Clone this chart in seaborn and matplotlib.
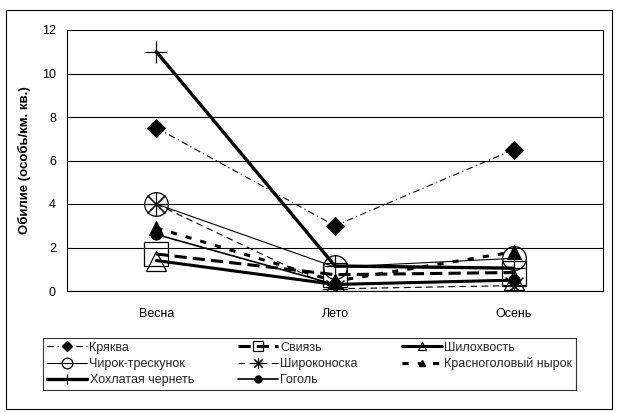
import numpy as np
import pandas as pd
import matplotlib
matplotlib.use("Agg")
import matplotlib.pyplot as plt
from matplotlib.patches import Rectangle
from matplotlib.lines import Line2D
import seaborn as sns

seasons = ['Весна', 'Лето', 'Осень']
names = ['Кряква', 'Свиязь', 'Шилохвость', 'Чирок-трескунок', 'Широконоска',
         'Красноголовый нырок', 'Хохлатая чернеть', 'Гоголь']
kryakva = [7.5, 3.0, 6.5]
sviyaz = [1.7, 0.75, 0.85]
shilohvost = [1.4, 0.3, 0.5]
chirok = [4.0, 1.1, 1.5]
shirokonoska = [4.0, 0.1, 0.25]
krasnogolov = [2.9, 0.45, 1.8]
hohlataya = [11.0, 1.15, 1.05]
gogol = [2.6, 0.3, 0.5]
values = [kryakva, sviyaz, shilohvost, chirok, shirokonoska, krasnogolov, hohlataya, gogol]
y_ticks = [0, 2, 4, 6, 8, 10, 12]
y_label = 'Обилие (особь/км. кв.)'

styles = {
    'Кряква': dict(linestyle=(0, (6, 3, 1, 3)), linewidth=0.8, marker='D', markersize=9,
                   markerfacecolor='black', markeredgecolor='black'),
    'Свиязь': dict(linestyle=(0, (4, 2)), linewidth=2.2, marker='s', markersize=17,
                   markerfacecolor='none', markeredgecolor='black', markeredgewidth=0.9),
    'Шилохвость': dict(linestyle='-', linewidth=2.2, marker='^', markersize=14,
                       markerfacecolor='none', markeredgecolor='black', markeredgewidth=0.9),
    'Чирок-трескунок': dict(linestyle='-', linewidth=0.8, marker='o', markersize=17,
                            markerfacecolor='none', markeredgecolor='black', markeredgewidth=0.9),
    'Широконоска': dict(linestyle=(0, (6, 4)), linewidth=0.8, marker=(8, 2, 0), markersize=18,
                        markerfacecolor='none', markeredgecolor='black', markeredgewidth=0.8),
    'Красноголовый нырок': dict(linestyle=(0, (2, 3)), linewidth=2.2, marker='^', markersize=10,
                                markerfacecolor='black', markeredgecolor='black'),
    'Хохлатая чернеть': dict(linestyle='-', linewidth=2.4, marker='+', markersize=16,
                             markeredgecolor='black', markeredgewidth=0.9),
    'Гоголь': dict(linestyle='-', linewidth=1.2, marker='o', markersize=8,
                   markerfacecolor='black', markeredgecolor='black'),
}

sns.set_theme(style='white')
plt.rcParams['font.family'] = ['Liberation Sans', 'DejaVu Sans']

fig = plt.figure(figsize=(6.21, 4.12), dpi=100)
ax = fig.add_axes([67/621, 1-291/412, (603-67)/621, (291-30)/412])

df = pd.DataFrame({'season': np.tile(np.arange(len(seasons)), len(names)),
                   'name': np.repeat(names, len(seasons)),
                   'value': np.concatenate(values)})

for n in names:
    sub = df[df['name'] == n]
    sns.lineplot(data=sub, x='season', y='value', ax=ax, color='black',
                 legend=False, **styles[n])

ax.set_xlim(-0.5, len(seasons) - 0.5)
ax.set_ylim(0, 12)
ax.set_yticks(y_ticks)
ax.set_xticks(range(len(seasons)))
ax.set_xticklabels(seasons)
ax.set_xticks(np.arange(-0.5, len(seasons), 1.0), minor=True)
ax.tick_params(axis='x', which='major', length=0, pad=12, labelsize=9, colors='black')
ax.tick_params(axis='x', which='minor', length=4, width=0.8, color='black', direction='out')
ax.tick_params(axis='y', length=5, width=0.8, color='black', direction='out', labelsize=9,
               labelcolor='black', pad=3)
ax.set_xlabel('')
ax.set_ylabel(y_label, fontsize=9.5, fontweight='bold', color='black', labelpad=8)
ax.grid(axis='y', color='black', linewidth=0.8)
ax.set_axisbelow(True)
for s in ['left', 'bottom', 'right']:
    ax.spines[s].set_visible(True)
    ax.spines[s].set_color('black')
    ax.spines[s].set_linewidth(0.8)
ax.spines['top'].set_visible(False)

# legend proxies with smaller markers (as in the reference legend)
proxies = {}
for n in names:
    st = dict(styles[n])
    st['markersize'] = max(5, st['markersize'] * 0.45)
    proxies[n] = Line2D([], [], color='black', **st)

order = ['Кряква', 'Чирок-трескунок', 'Хохлатая чернеть',
         'Свиязь', 'Широконоска', 'Гоголь',
         'Шилохвость', 'Красноголовый нырок']
leg = fig.legend([proxies[n] for n in order], order, ncol=3, loc='center',
                 bbox_to_anchor=(37/621, 1-395/412, 545/621, 62/412), mode='expand',
                 fontsize=9, frameon=True, fancybox=False, edgecolor='black',
                 handlelength=3.2, handletextpad=0.2,
                 borderpad=0.3, labelspacing=0.35, columnspacing=1.0)
leg.get_frame().set_linewidth(0.8)

fig.patches.append(Rectangle((6/621, 1-409/412), (612-6)/621, (409-10)/412,
                             transform=fig.transFigure, fill=False, edgecolor='black',
                             linewidth=0.8))

fig.savefig('out.png', dpi=100, facecolor='white')
